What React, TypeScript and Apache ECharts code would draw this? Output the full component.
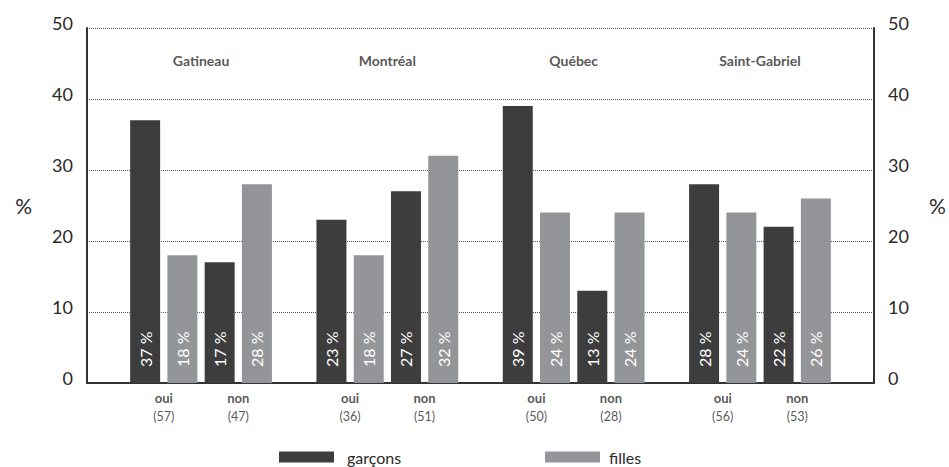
import React, { useEffect, useRef } from "react";
import * as echarts from "echarts";

// Survey results by city: share of boys / girls answering "oui" or "non"
const cities = ["Gatineau", "Montréal", "Québec", "Saint-Gabriel"];
const answers = ["oui", "non"];
// per city, in order: oui, non
const garcons = [37, 17, 23, 27, 39, 13, 28, 22];
const filles = [18, 28, 18, 32, 24, 24, 24, 26];
const effectifs = [57, 47, 36, 51, 50, 28, 56, 53];
const yTicks = [0, 10, 20, 30, 40, 50];

const DARK = "#3d3d3d";
const GREY = "#949598";
const INK = "#2a2a2a";
const FONT = "Lato, 'Noto Sans', sans-serif";

// Each city occupies 5 slots on the x scale: 4 bars + one empty spacer slot.
const slot = (i: number, sex: number) => Math.floor(i / 2) * 5 + (i % 2) * 2 + sex;

export default function App() {
  const ref = useRef<HTMLDivElement>(null);

  useEffect(() => {
    if (!ref.current) return;
    const chart = echarts.init(ref.current, undefined, { renderer: "svg" });

    const barLabel = {
      show: true,
      position: "insideBottom",
      rotate: 90,
      align: "left",
      verticalAlign: "middle",
      distance: 16,
      color: "#ffffff",
      fontSize: 16,
      fontFamily: FONT,
      formatter: (p: any) => `${p.value[1]} %`,
    };

    const yAxisBase = {
      type: "value",
      min: yTicks[0],
      max: yTicks[yTicks.length - 1],
      interval: 10,
      name: "%",
      nameLocation: "middle",
      nameRotate: 0,
      nameGap: 55,
      nameTextStyle: { fontSize: 21, color: INK, fontFamily: FONT },
      axisLine: { show: true, onZero: false, lineStyle: { color: "#333", width: 2 } },
      axisTick: { show: false },
      axisLabel: {
        fontSize: 18,
        color: INK,
        fontFamily: FONT,
        margin: 14,
        verticalAlign: "bottom",
        lineHeight: 10,
      },
    };

    const legendBase = (gap: number) => ({
      top: 443,
      icon: "rect",
      itemWidth: 55,
      itemHeight: 11,
      selectedMode: false,
      textStyle: {
        fontSize: 16,
        color: INK,
        fontFamily: FONT,
        lineHeight: 18,
        padding: [0, 0, 0, gap],
      },
    });

    chart.setOption({
      animation: false,
      grid: { left: 87, right: 75, top: 28, bottom: 84 },
      xAxis: {
        type: "value",
        min: -1.56,
        max: 19.56,
        axisLine: { show: true, onZero: false, lineStyle: { color: "#333", width: 2 } },
        axisTick: { show: false },
        axisLabel: { show: false },
        splitLine: { show: false },
      },
      yAxis: [
        {
          ...yAxisBase,
          position: "left",
          splitLine: {
            show: true,
            lineStyle: { type: "dotted", color: "#555", width: 1 },
          },
        },
        {
          ...yAxisBase,
          position: "right",
          splitLine: { show: false },
        },
      ],
      legend: [
        { ...legendBase(8), data: ["garçons"], left: 274 },
        { ...legendBase(4), data: ["filles"], left: 540 },
      ],
      series: [
        {
          name: "garçons",
          type: "bar",
          barWidth: 30,
          barGap: "-100%",
          itemStyle: { color: DARK },
          label: barLabel,
          data: garcons.map((v, i) => [slot(i, 0), v]),
        },
        {
          name: "filles",
          type: "bar",
          barWidth: 30,
          barGap: "-100%",
          itemStyle: { color: GREY },
          label: barLabel,
          data: filles.map((v, i) => [slot(i, 1), v]),
        },
        {
          // answer + sample size under each pair of bars
          type: "scatter",
          symbolSize: 0,
          silent: true,
          clip: false,
          label: {
            show: true,
            position: "bottom",
            distance: 6,
            formatter: (p: any) =>
              `{a|${answers[p.dataIndex % 2]}}\n{b|(${effectifs[p.dataIndex]})}`,
            rich: {
              a: { fontSize: 13, fontWeight: "bold", color: INK, fontFamily: FONT, lineHeight: 18 },
              b: { fontSize: 12.5, color: INK, fontFamily: FONT, lineHeight: 18 },
            },
          },
          data: effectifs.map((_, i) => [slot(i, 0) + 0.5, 0]),
        },
        {
          // city headings
          type: "scatter",
          symbolSize: 0,
          silent: true,
          clip: false,
          label: {
            show: true,
            position: "bottom",
            distance: 24,
            fontSize: 14,
            fontWeight: "bold",
            color: INK,
            fontFamily: FONT,
            lineHeight: 16,
            formatter: (p: any) => cities[p.dataIndex],
          },
          data: cities.map((_, c) => [c * 5 + 1.5, 50]),
        },
      ],
    });

    return () => chart.dispose();
  }, []);

  return (
    <div
      ref={ref}
      style={{ position: "absolute", left: 0, top: 0, width: 949, height: 467, background: "#fff" }}
    />
  );
}
